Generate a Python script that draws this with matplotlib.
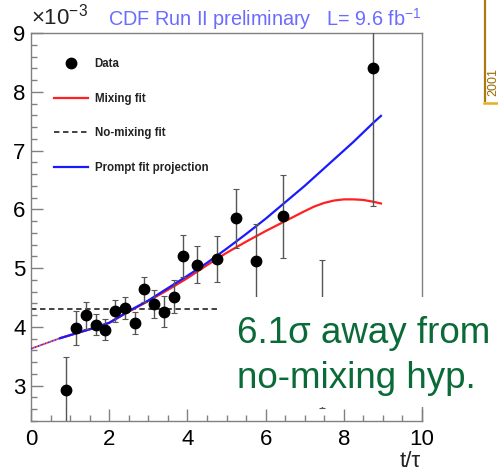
import matplotlib
matplotlib.use("Agg")
import matplotlib.pyplot as plt
from matplotlib.lines import Line2D
from matplotlib.patches import Rectangle
import numpy as np

plt.rcParams['font.family'] = ['Liberation Sans', 'DejaVu Sans']
plt.rcParams['mathtext.fontset'] = 'custom'
plt.rcParams['mathtext.rm'] = 'Liberation Sans'
plt.rcParams['mathtext.it'] = 'Liberation Sans:italic'

# Binned decay-time data (ratio in units of 1e-3)
t_data = [0.90, 1.15, 1.40, 1.65, 1.90, 2.15, 2.40, 2.65, 2.90, 3.15,
          3.40, 3.65, 3.90, 4.25, 4.75, 5.25, 5.75, 6.45, 7.45, 8.75]
r_data = [2.92, 3.98, 4.20, 4.04, 3.95, 4.27, 4.32, 4.07, 4.64, 4.39,
          4.26, 4.51, 5.21, 5.06, 5.16, 5.85, 5.12, 5.88, 3.88, 8.40]
r_err = [0.57, 0.29, 0.23, 0.18, 0.18, 0.18, 0.19, 0.19, 0.21, 0.23,
         0.26, 0.28, 0.36, 0.31, 0.39, 0.50, 0.63, 0.70, 1.26, 2.34]

# Fit curves
t_curve = [0.00, 0.25, 0.50, 0.75, 1.00, 1.50, 2.00, 2.50, 3.00, 3.50, 4.00,
           4.50, 5.00, 5.50, 6.00, 6.50, 7.00, 7.25, 7.50, 7.75, 8.00,
           8.25, 8.50, 8.75, 8.95]
prompt_fit = [3.63, 3.69, 3.75, 3.81, 3.86, 3.96, 4.07, 4.27, 4.45, 4.66, 4.87,
              5.09, 5.33, 5.58, 5.84, 6.12, 6.40, 6.55, 6.70, 6.85, 7.00,
              7.15, 7.31, 7.47, 7.59]
mixing_fit = [3.63, 3.69, 3.75, 3.81, 3.86, 3.96, 4.07, 4.26, 4.44, 4.63, 4.83,
              5.05, 5.26, 5.45, 5.63, 5.80, 5.97, 6.05, 6.11, 6.15, 6.17,
              6.17, 6.16, 6.13, 6.10]
t_solid_start = 0.75

nomix_level = 4.30
nomix_range = [0.0, 4.8]

fig = plt.figure(figsize=(4.98, 4.72), dpi=100)
W, H = 498, 472
ax = fig.add_axes([31 / W, 1 - 421 / H, 391 / W, 388 / H])

gray = '#808080'
t_c = np.array(t_curve)
pf = np.array(prompt_fit)
mf = np.array(mixing_fit)
early = t_c <= t_solid_start
late = t_c >= t_solid_start

ax.plot(t_c[early], pf[early], color='#3030ff', lw=1.3, ls=(0, (1, 1)), zorder=3)
ax.plot(t_c[early], mf[early], color='#ff3030', lw=1.3, ls=(1, (1, 1)), zorder=3)
ax.plot(t_c[late], mf[late], color='#ff2020', lw=1.6, zorder=3,
        solid_joinstyle='round')
ax.plot(t_c[late], pf[late], color='#1a1aff', lw=1.6, zorder=4,
        solid_joinstyle='round')

ax.plot(nomix_range, [nomix_level, nomix_level], color='#333333', lw=1.3,
        ls=(0, (3, 2)), zorder=2)

ax.errorbar(t_data, r_data, yerr=r_err, fmt='o', color='black', ms=7.5,
            ecolor='#555555', elinewidth=1.0, capsize=2, capthick=0.8, zorder=5)

ax.set_xlim(0, 10)
ax.set_ylim(2.4, 9.0)
ax.set_xticks([0, 2, 4, 6, 8, 10])
ax.set_xticks(np.arange(0, 10.01, 0.5), minor=True)
ax.set_yticks([3, 4, 5, 6, 7, 8, 9])
ax.set_yticks(np.arange(2.4, 9.01, 0.2), minor=True)
ax.tick_params(which='both', direction='in', color=gray, width=1.0,
               labelsize=16, top=False, right=False)
ax.tick_params(which='major', length=8.5)
ax.tick_params(which='minor', length=4.5)
ax.tick_params(axis='x', pad=6)
ax.tick_params(axis='y', pad=4)
for s in ax.spines.values():
    s.set_color(gray)
    s.set_linewidth(1.0)

handles = [
    Line2D([], [], marker='o', color='black', ls='none', ms=7.5),
    Line2D([], [], color='#ff2020', lw=1.6),
    Line2D([], [], color='#333333', lw=1.3, ls=(0, (3, 2))),
    Line2D([], [], color='#1a1aff', lw=1.6),
]
labels = ['Data', 'Mixing fit', 'No-mixing fit', 'Prompt fit projection']
leg = ax.legend(handles, labels, loc='upper left', bbox_to_anchor=(0.058, 0.935),
                frameon=False, borderpad=0, borderaxespad=0, handlelength=3.0,
                handletextpad=0.55, labelspacing=1.95,
                prop={'size': 8.3, 'weight': 'bold'})
for txt in leg.get_texts():
    txt.set_color('#222222')

# Header texts
fig.text(31 / W, 1 - 25 / H, r'$\mathregular{\times10^{-3}}$', fontsize=16,
         ha='left', va='baseline', color='#222222')
fig.text(108 / W, 1 - 26 / H,
         r'CDF Run II preliminary   L= 9.6 fb$\mathregular{^{-1}}$',
         fontsize=14.3, ha='left', va='baseline', color='#6b6bff')
fig.text(421 / W, 1 - 467 / H, 't/τ', fontsize=16, ha='right',
         va='baseline', color='#222222')

# Annotation box
fig.patches.append(Rectangle((232 / W, 1 - 407 / H), (W - 232) / W, 110 / H,
                             transform=fig.transFigure, facecolor='white',
                             edgecolor='none', zorder=5))
fig.text(237 / W, 1 - 343 / H, '6.1σ away from', fontsize=26.5,
         color='#0a6b38', ha='left', va='baseline', zorder=6)
fig.text(237 / W, 1 - 388 / H, 'no-mixing hyp.', fontsize=26.5,
         color='#0a6b38', ha='left', va='baseline', zorder=6)

# Corner marker
fig.add_artist(Line2D([485 / W, 485 / W], [1.0, 1 - 101 / H],
                      transform=fig.transFigure, color='#a87a10', lw=1.6))
fig.add_artist(Line2D([484 / W, 1.0], [1 - 103 / H, 1 - 103 / H],
                      transform=fig.transFigure, color='#e8b020', lw=1.8))
fig.text(487.5 / W, 1 - 96 / H, '2001', rotation=90, fontsize=9,
         color='#9c6a00', ha='left', va='bottom')

fig.savefig('out.png', dpi=100)
